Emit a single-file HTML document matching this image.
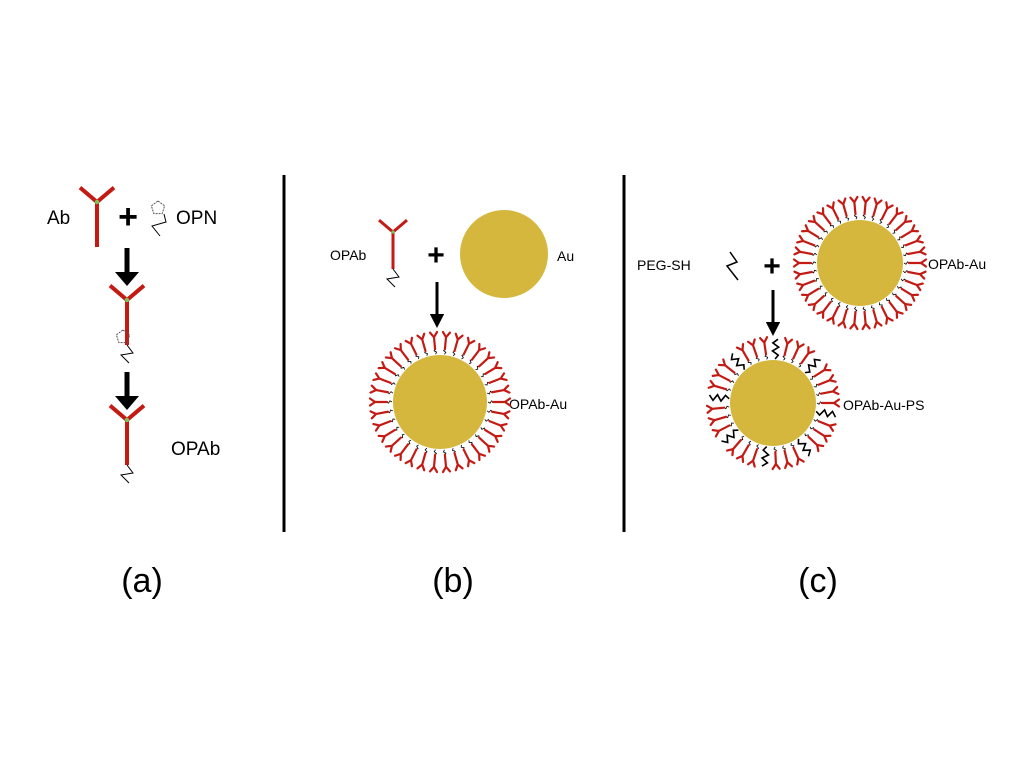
<!DOCTYPE html>
<html><head><meta charset="utf-8"><style>
html,body{margin:0;padding:0;background:#fff;}
svg{display:block;}
text{font-family:"Liberation Sans",sans-serif;fill:#000;}
</style></head><body>
<svg id="s" width="1024" height="768" viewBox="0 0 1024 768">
<line x1="284" y1="175" x2="284" y2="532" stroke="#000" stroke-width="3"/>
<line x1="624" y1="175" x2="624" y2="532" stroke="#000" stroke-width="3"/>
<text x="142" y="592" font-size="34" text-anchor="middle">(a)</text>
<text x="453" y="592" font-size="34" text-anchor="middle">(b)</text>
<text x="818" y="592" font-size="34" text-anchor="middle">(c)</text>

<text x="47" y="224" font-size="19">Ab</text>
<text x="176" y="224" font-size="19">OPN</text>
<text x="171" y="455" font-size="19">OPAb</text>
<text x="330" y="260" font-size="14">OPAb</text>
<text x="557" y="261" font-size="14">Au</text>
<text x="509" y="409" font-size="14">OPAb-Au</text>
<text x="637" y="270" font-size="14">PEG-SH</text>
<text x="928" y="269" font-size="14">OPAb-Au</text>
<text x="843" y="410" font-size="14">OPAb-Au-PS</text>

<g font-weight="bold">
<text x="128" y="228" font-size="34" text-anchor="middle">+</text>
<text x="436" y="265" font-size="30" text-anchor="middle">+</text>
<text x="772" y="276" font-size="30" text-anchor="middle">+</text>
</g>
<circle cx="504" cy="254" r="44" fill="#d4b73c"/>
</svg>
<script>
const NS='http://www.w3.org/2000/svg';
const s=document.getElementById('s');
function el(t,a,p){const e=document.createElementNS(NS,t);for(const k in a)e.setAttribute(k,a[k]);(p||s).appendChild(e);return e;}
function arrow(x,y1,y2,w){
  const g=el('g',{});
  
  
  el('line',{x1:x,y1:y1,x2:x,y2:y2-10,stroke:'#000','stroke-width':w},g);
  el('path',{d:`M${x-w*2.4},${y2-14} L${x+w*2.4},${y2-14} L${x},${y2} z`,fill:'#000'},g);
}
arrow(127,248,286,5);arrow(127,372,410,5);
arrow(437,282,328,3);arrow(773,290,336,3);
function antibody(x,jy,arm,len,w,zig,pent){
  const g=el('g',{});
  
  
  el('path',{d:`M${x-arm},${jy-arm*0.85} L${x},${jy} L${x+arm},${jy-arm*0.85} M${x},${jy} L${x},${jy+len}`,stroke:'#c41a14','stroke-width':w,fill:'none'},g);
  el('circle',{cx:x,cy:jy,r:w*0.55,fill:'#7dc35a'},g);
  if(pent){pentagon(x-4,jy+len-8,g);}
  if(zig){const b=jy+len;el('path',{d:`M${x},${b} L${x+6},${b+8} L${x-6},${b+10} L${x+2},${b+18}`,stroke:'#000','stroke-width':1,fill:'none'},g);}
}
function pentagon(cx,cy,g){
  let d='';for(let i=0;i<5;i++){const a=-Math.PI/2+i*2*Math.PI/5;d+=(i?'L':'M')+(cx+7*Math.cos(a))+','+(cy+7*Math.sin(a));}
  el('path',{d:d+'z',stroke:'#555','stroke-width':1,'stroke-dasharray':'2,1',fill:'none'},g);
}
antibody(97,202,17,45,4,false,false);
antibody(127,300,17,45,4,true,true);
antibody(127,420,17,45,4,true,false);
antibody(393,232,14,37,3,true,false);
pentagon(158,208,s);
el('path',{d:'M164,214 L166,222 L152,226 L160,236',stroke:'#000','stroke-width':1,fill:'none'});
el('path',{d:'M730,252 L737,262 L727,266 L738,280',stroke:'#000','stroke-width':1.5,fill:'none'});
function particle(cx,cy,r,n,peg,name){
  const g=el('g',{});
  
  
  for(let i=0;i<n;i++){
    const a=i*2*Math.PI/n;const c=Math.cos(a),sn=Math.sin(a);
    const P=(d,t)=>[cx+c*d-sn*t,cy+sn*d+c*t];
    const isPeg=peg&&i%4===1;
    if(isPeg){
      let d='';const pts=[[r+1,0],[r+5,3],[r+9,-3],[r+13,3],[r+17,-3],[r+21,2]];
      pts.forEach((p,k)=>{const q=P(p[0],p[1]);d+=(k?'L':'M')+q[0]+','+q[1];});
      el('path',{d,stroke:'#000','stroke-width':1.6,fill:'none'},g);
    }else{
      let d='';[[r+1,0],[r+3,1.2],[r+4.5,-1.2],[r+6,0]].forEach((p,k)=>{const q=P(p[0],p[1]);d+=(k?'L':'M')+q[0]+','+q[1];});
      el('path',{d,stroke:'#000','stroke-width':0.8,fill:'none'},g);
      const s0=P(r+6,0),j=P(r+18,0),l=P(r+23,-3.5),rr=P(r+23,3.5);
      el('path',{d:`M${s0[0]},${s0[1]} L${j[0]},${j[1]} M${l[0]},${l[1]} L${j[0]},${j[1]} L${rr[0]},${rr[1]}`,stroke:'#c41a14','stroke-width':2.2,fill:'none','stroke-linecap':'round'},g);
    }
  }
  el('circle',{cx,cy,r,fill:'#d4b73c'},g);
}
particle(440,402,47,34,false,'opab-au-particle-b');
particle(860,263,43,34,false,'opab-au-particle-c');
particle(773,403,43,33,true,'opab-au-ps-particle');
</script>
</body></html>
